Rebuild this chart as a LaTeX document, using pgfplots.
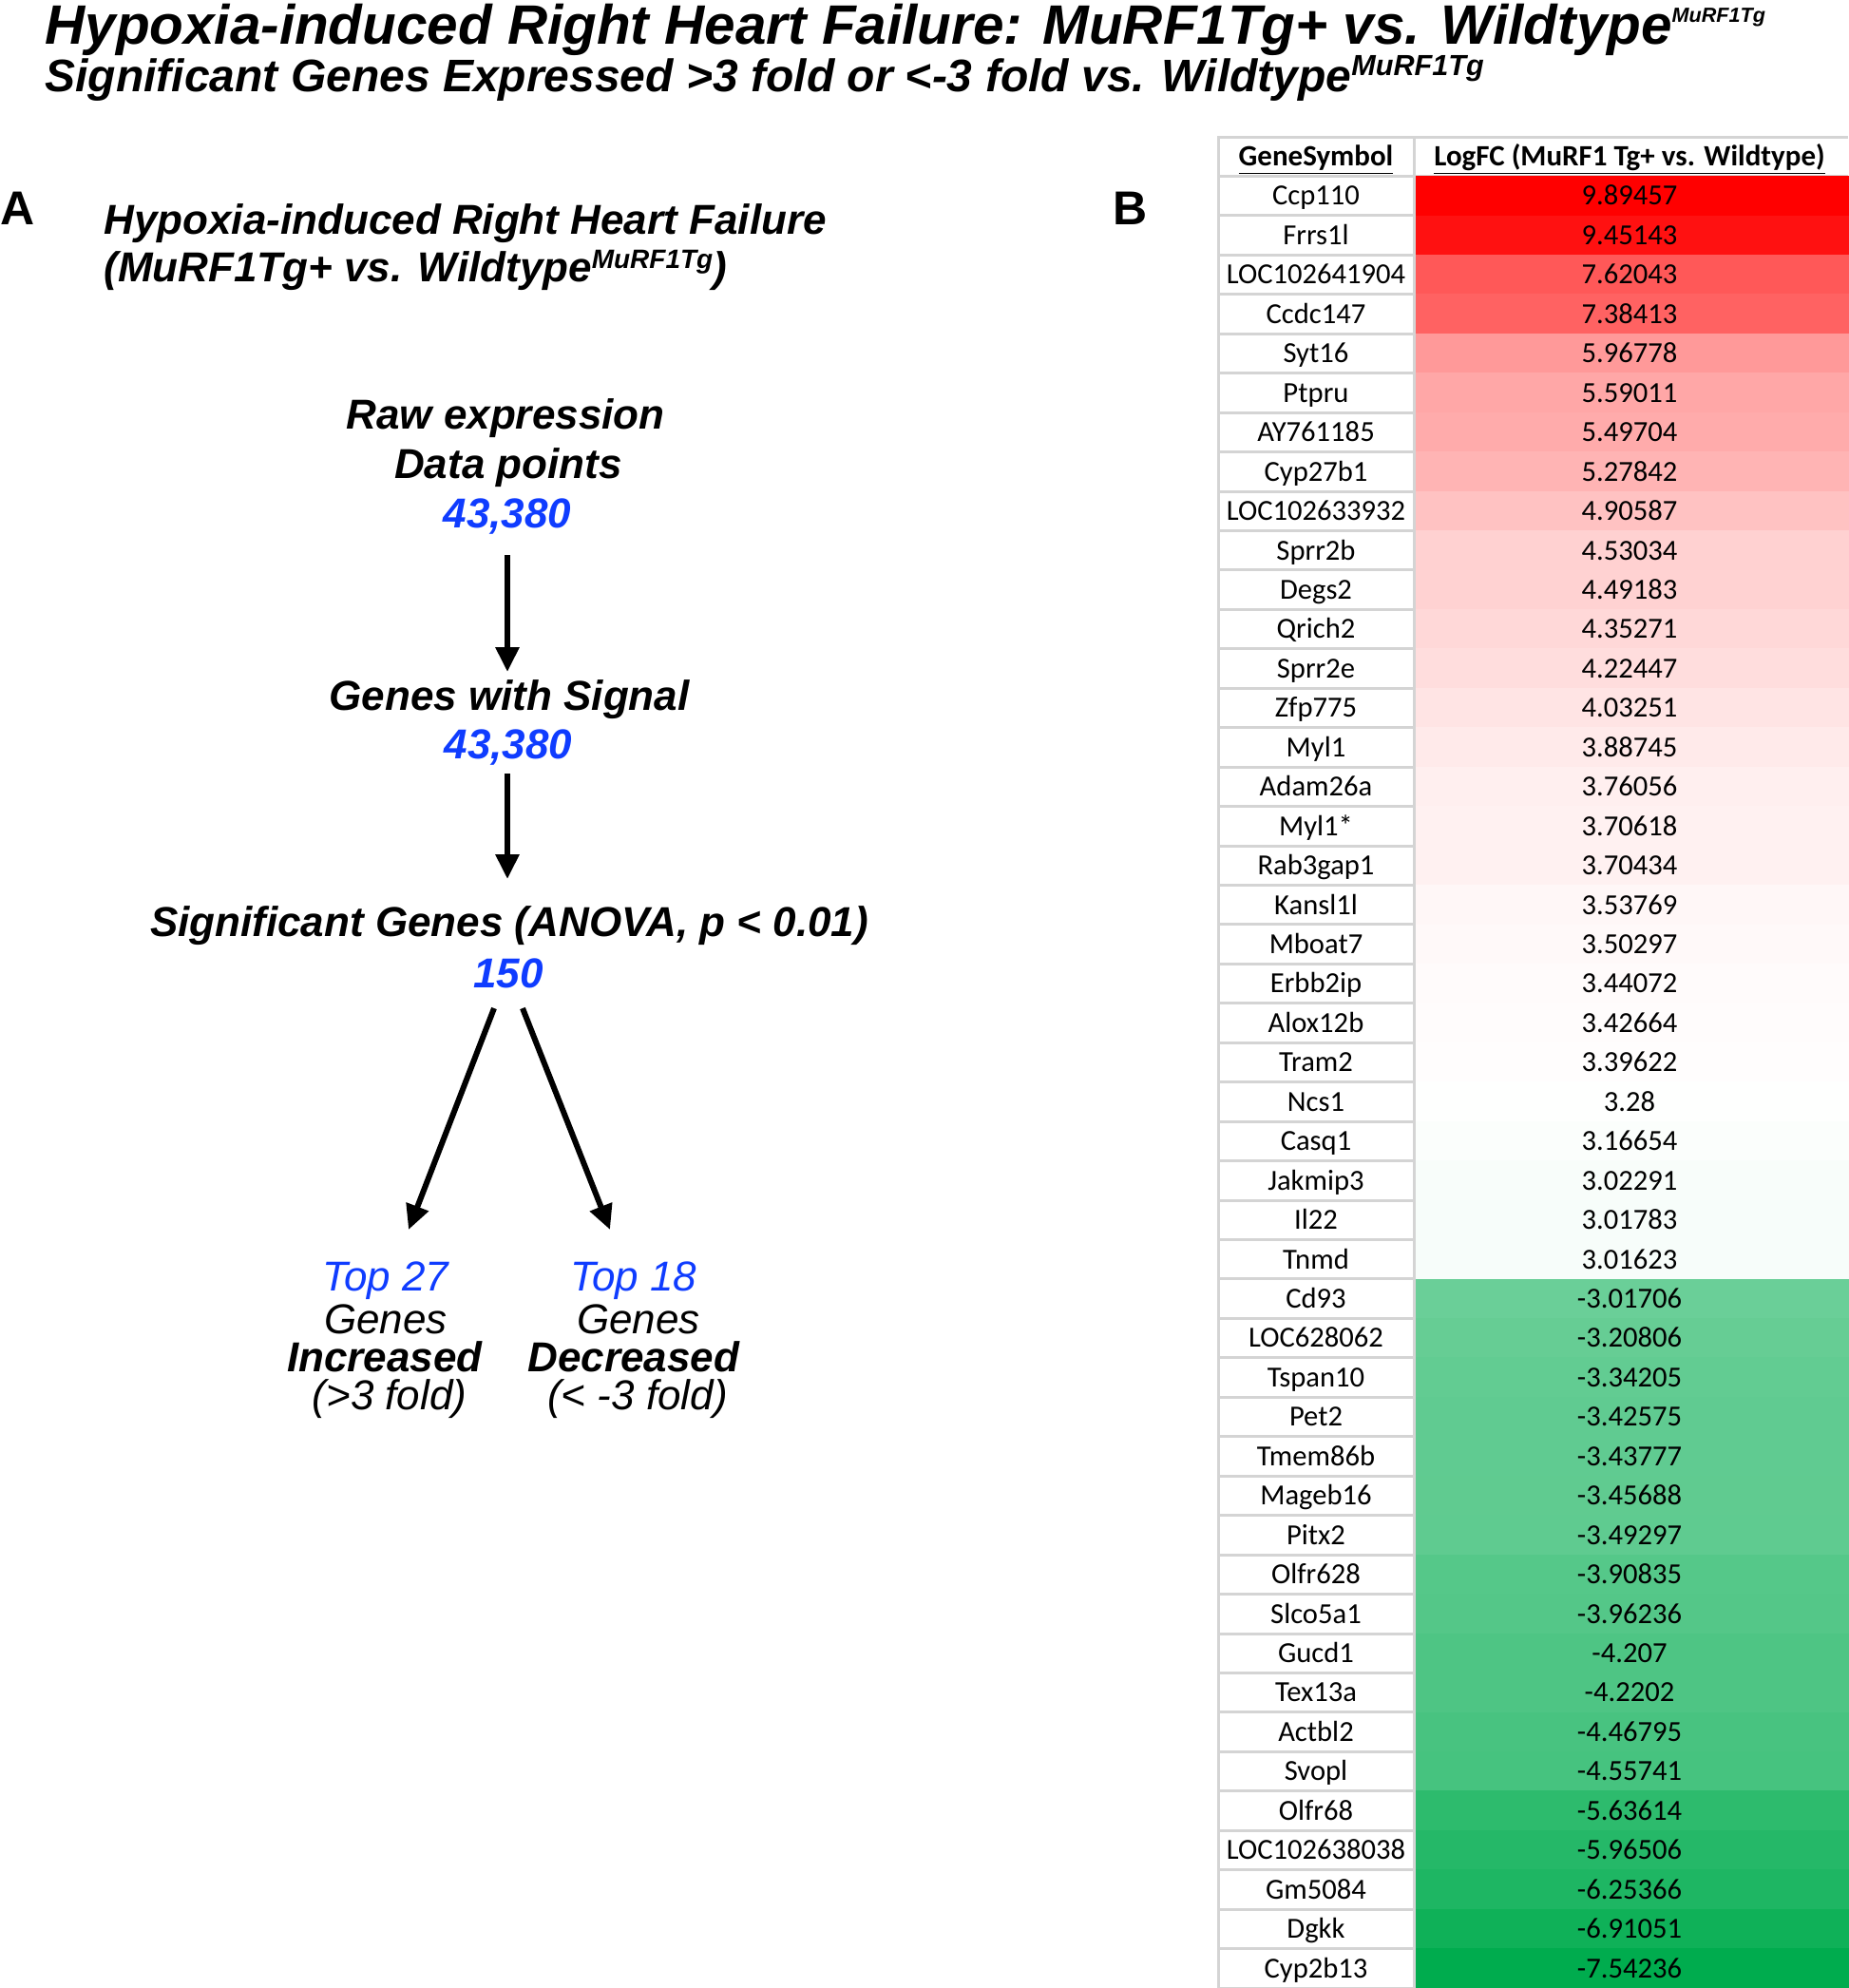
\documentclass[border=0pt]{standalone}
\usepackage{fontspec}
\setmainfont{Liberation Sans}
\newfontfamily\calibri{Carlito}
\usepackage{pgfplots}
\pgfplotsset{compat=1.18}
\usepackage{pgfplotstable}
\usetikzlibrary{arrows.meta}
\definecolor{numblue}{RGB}{15,60,255}
\definecolor{gridgray}{RGB}{212,212,212}
\definecolor{cellgreen}{RGB}{0,172,78}

\pgfplotstableread[col sep=comma]{
row,gene,fc
1,Ccp110,9.89457
2,Frrs1l,9.45143
3,LOC102641904,7.62043
4,Ccdc147,7.38413
5,Syt16,5.96778
6,Ptpru,5.59011
7,AY761185,5.49704
8,Cyp27b1,5.27842
9,LOC102633932,4.90587
10,Sprr2b,4.53034
11,Degs2,4.49183
12,Qrich2,4.35271
13,Sprr2e,4.22447
14,Zfp775,4.03251
15,Myl1,3.88745
16,Adam26a,3.76056
17,Myl1*,3.70618
18,Rab3gap1,3.70434
19,Kansl1l,3.53769
20,Mboat7,3.50297
21,Erbb2ip,3.44072
22,Alox12b,3.42664
23,Tram2,3.39622
24,Ncs1,3.28
25,Casq1,3.16654
26,Jakmip3,3.02291
27,Il22,3.01783
28,Tnmd,3.01623
29,Cd93,-3.01706
30,LOC628062,-3.20806
31,Tspan10,-3.34205
32,Pet2,-3.42575
33,Tmem86b,-3.43777
34,Mageb16,-3.45688
35,Pitx2,-3.49297
36,Olfr628,-3.90835
37,Slco5a1,-3.96236
38,Gucd1,-4.207
39,Tex13a,-4.2202
40,Actbl2,-4.46795
41,Svopl,-4.55741
42,Olfr68,-5.63614
43,LOC102638038,-5.96506
44,Gm5084,-6.25366
45,Dgkk,-6.91051
46,Cyp2b13,-7.54236
}\genetable

\begin{document}
\begin{tikzpicture}
\path[use as bounding box] (0pt,0pt) rectangle (972.5pt,-1046pt);

\begin{scope}[x=0.5pt, y=-0.5pt]
\tikzset{flow/.style={anchor=base, inner sep=0pt, font=\bfseries\itshape\fontsize{22}{26}\selectfont},
         flowr/.style={anchor=base, inner sep=0pt, font=\itshape\fontsize{22}{26}\selectfont}}
% main titles
\node[anchor=base west, inner sep=0pt, font=\bfseries\itshape\fontsize{29.2}{34}\selectfont] at (47,47)
  {Hypoxia-induced Right Heart Failure: MuRF1Tg+ vs. Wildtype\raisebox{11.5pt}{\fontsize{10.8}{13}\selectfont MuRF1Tg}};
\node[anchor=base west, inner sep=0pt, font=\bfseries\itshape\fontsize{24}{28}\selectfont] at (47,97)
  {Significant Genes Expressed >3 fold or <-3 fold vs. Wildtype\raisebox{8.5pt}{\fontsize{15.3}{17}\selectfont MuRF1Tg}};
% panel letters
\node[anchor=base west, inner sep=0pt, font=\bfseries\fontsize{25}{30}\selectfont] at (0,237) {A};
\node[anchor=base west, inner sep=0pt, font=\bfseries\fontsize{25}{30}\selectfont] at (1171,237) {B};
% panel A title
\node[anchor=base west, inner sep=0pt, font=\bfseries\itshape\fontsize{22}{26}\selectfont] at (109,247)
  {Hypoxia-induced Right Heart Failure};
\node[anchor=base west, inner sep=0pt, font=\bfseries\itshape\fontsize{22}{26}\selectfont] at (109,296)
  {(MuRF1Tg+ vs. Wildtype\raisebox{7pt}{\fontsize{14}{16}\selectfont MuRF1Tg})};
% flow
\node[flow] at (532,451) {Raw expression};
\node[flow] at (535,503) {Data points};
\node[flow, text=numblue] at (534,555) {43,380};
\draw[line width=3pt, -{Triangle[width=12pt, length=13pt]}] (534,584) -- (534,707);
\node[flow] at (536,747) {Genes with Signal};
\node[flow, text=numblue] at (535,798) {43,380};
\draw[line width=3pt, -{Triangle[width=12pt, length=13pt]}] (534,814) -- (534,925);
\node[flow] at (536,985) {Significant Genes (ANOVA, p < 0.01)};
\node[flow, text=numblue] at (535,1039) {150};
\draw[line width=3pt, -{Triangle[width=12pt, length=13pt]}] (520,1061) -- (430,1294);
\draw[line width=3pt, -{Triangle[width=12pt, length=13pt]}] (550,1061) -- (642,1294);
% bottom blocks
\node[flowr, text=numblue] at (406,1358) {Top 27};
\node[flowr] at (406,1403) {Genes};
\node[flow] at (405,1443) {Increased};
\node[flowr] at (410,1483) {(>3 fold)};
\node[flowr, text=numblue] at (667,1358) {Top 18};
\node[flowr] at (672,1403) {Genes};
\node[flow] at (667,1443) {Decreased};
\node[flowr] at (671,1483) {(< -3 fold)};
\end{scope}

\begin{axis}[at={(640.5pt,-72pt)}, anchor=north west, scale only axis,
  width=332pt, height=974pt,
  xmin=-209, xmax=455, ymin=-0.5, ymax=46.5, y dir=reverse,
  axis line style={draw=none}, major tick length=0pt, minor tick length=0pt,
  xtick=\empty, ytick={1,...,46},
  yticklabels from table={\genetable}{gene},
  yticklabel style={anchor=base, xshift=52pt, yshift=-4.9pt, inner sep=0pt, font=\calibri\fontsize{15.3}{18}\selectfont},
  minor ytick={-0.5,0.5,...,46.5}, yminorgrids,
  minor grid style={draw=gridgray, line width=1.5pt},
  clip=false]
\draw[gridgray, line width=1.5pt] (axis cs:-207.5,-0.5) -- (axis cs:-207.5,46.5);
\draw[gridgray, line width=1.5pt] (axis cs:-1.5,-0.5) -- (axis cs:-1.5,46.5);
% one coloured bar (cell) per gene, shade from its logFC
\pgfplotsinvokeforeach{0,...,45}{%
  \pgfplotstablegetelem{#1}{fc}\of\genetable
  \let\v\pgfplotsretval
  \ifdim\v pt>3.34pt
    \pgfmathsetmacro\p{min(100,(\v-3.34)*100/6.55457)}%
    \edef\cellcol{red!\p!white}%
  \else
    \pgfmathsetmacro\p{min(100,(3.34-\v)*100/10.88236)}%
    \edef\cellcol{cellgreen!\p!white}%
  \fi
  \pgfplotstablegetelem{#1}{row}\of\genetable
  \let\r\pgfplotsretval
  \edef\tmp{\noexpand\addplot[xbar, bar width=1, bar shift=0pt, draw=\cellcol, line width=0.4pt, fill=\cellcol] coordinates {(455,\r)};}%
  \tmp
}
\addplot[only marks, mark=none, point meta=explicit symbolic,
  nodes near coords,
  every node near coord/.append style={anchor=base, yshift=-4.9pt, text=black, inner sep=0pt, font=\calibri\fontsize{15.3}{18}\selectfont}]
  table[x expr=225, y=row, meta=fc] {\genetable};
\node[anchor=base, yshift=-4.9pt, inner sep=0pt, font=\calibri\bfseries\fontsize{15.5}{18}\selectfont] at (axis cs:-105,0) {\underline{GeneSymbol}};
\node[anchor=base, yshift=-4.9pt, inner sep=0pt, font=\calibri\bfseries\fontsize{15.5}{18}\selectfont] at (axis cs:225,0) {\underline{LogFC (MuRF1 Tg+ vs. Wildtype)}};
\end{axis}
\end{tikzpicture}
\end{document}
